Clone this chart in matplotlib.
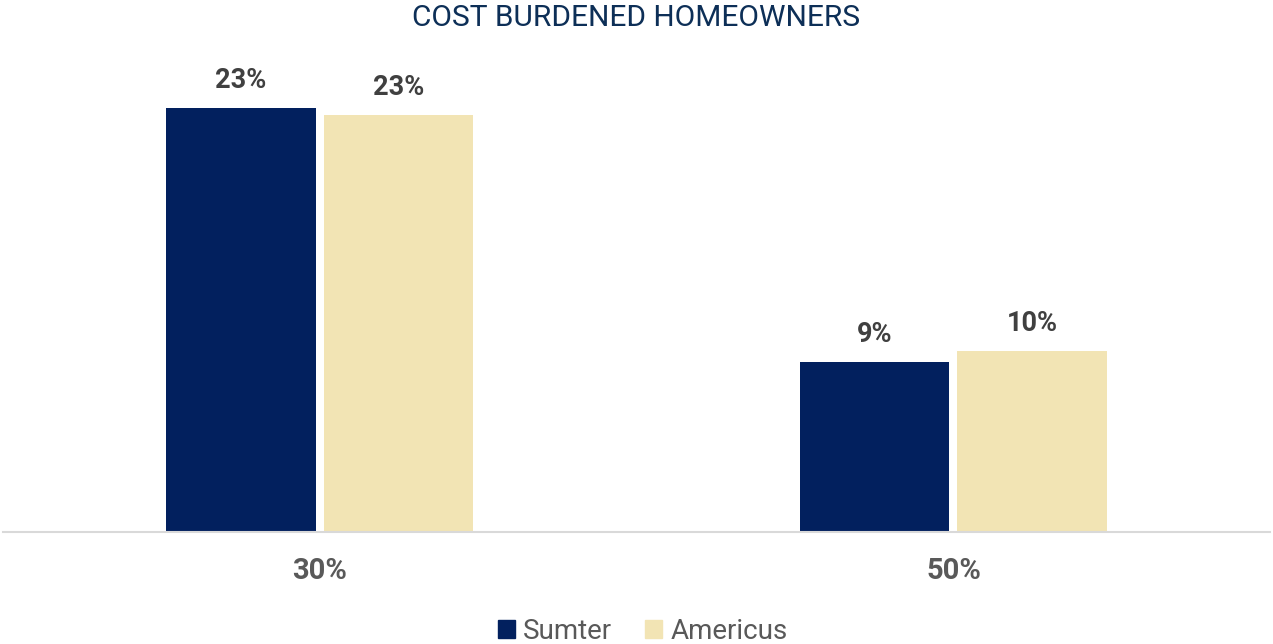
import numpy as np
import matplotlib.pyplot as plt
from matplotlib.patches import Patch

# cost burdened share by threshold
categories = ["30%", "50%"]
sumter = [0.230, 0.092]
americus = [0.226, 0.098]
series_names = ["Sumter", "Americus"]

NAVY = "#02205e"
BEIGE = "#f2e4b4"

plt.rcParams["font.family"] = ["Roboto", "DejaVu Sans"]

fig = plt.figure(figsize=(12.73, 6.44), dpi=100)
ax = fig.add_axes([0.002, 0.1739, 0.996, 0.7159])

x = np.arange(len(categories))
w = 0.236
gap = 0.0063
b1 = ax.bar(x - w / 2 - gap, sumter, w, color=NAVY)
b2 = ax.bar(x + w / 2 + gap, americus, w, color=BEIGE)

for bars in (b1, b2):
	for r in bars:
		v = r.get_height()
		ax.annotate(f"{v*100:.0f}%", (r.get_x() + r.get_width() / 2, v),
			xytext=(0, 10), textcoords="offset points", ha="center", va="bottom",
			fontsize=19.5, fontweight="bold", color="#404040")

ax.set_xlim(-0.5, 1.5)
ax.set_ylim(0, 0.25)
ax.set_xticks(x)
ax.set_xticklabels(categories, fontsize=21, fontweight="bold", color="#595959")
ax.tick_params(axis="x", length=0, pad=18)
ax.set_yticks([])
for s in ("top", "right", "left"):
	ax.spines[s].set_visible(False)
ax.spines["bottom"].set_color("#d9d9d9")
ax.spines["bottom"].set_linewidth(1.5)

fig.text(0.5, 0.972, "COST BURDENED HOMEOWNERS", ha="center", va="center",
	fontsize=21.5, color="#0d2f57")

handles = [Patch(color=NAVY), Patch(color=BEIGE)]
fig.legend(handles, series_names, loc="center", bbox_to_anchor=(0.505, 0.02),
	ncol=2, frameon=False, fontsize=20, labelcolor="#595959",
	handlelength=0.6, handleheight=0.6, handletextpad=0.3, columnspacing=1.2)

fig.savefig("out.png", dpi=100)
